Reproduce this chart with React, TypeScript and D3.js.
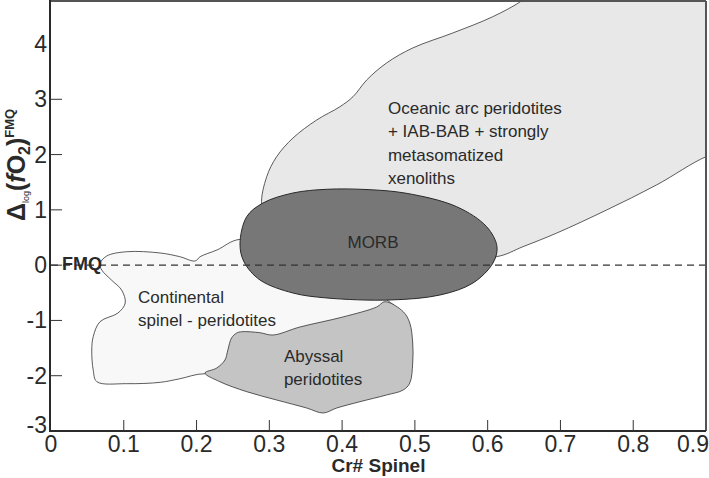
import React from "react";
import * as d3 from "d3";

type Pt = [number, number];

// axis ticks
const xTicks = [0, 0.1, 0.2, 0.3, 0.4, 0.5, 0.6, 0.7, 0.8, 0.9];
const yTicks = [-3, -2, -1, 0, 1, 2, 3, 4];
const yTickMarks = [-2, -1, 0, 1, 2, 3];

// field outlines, [Cr# spinel, dlog fO2]
const oceanicArc: Pt[] = [
  [0.2895, 1.088], [0.2964, 1.6], [0.31, 1.961], [0.3325, 2.3], [0.365, 2.625],
  [0.397, 2.866], [0.415, 3.047], [0.4338, 3.349], [0.461, 3.656], [0.497, 3.928],
  [0.552, 4.199], [0.607, 4.494], [0.6485, 4.796], [0.672, 5.07], [0.933, 5.07],
  [0.933, 2.08], [0.9, 1.961], [0.832, 1.45], [0.7635, 0.998], [0.695, 0.581],
  [0.6485, 0.334], [0.612, 0.153], [0.521, 0.183], [0.383, 0.455], [0.301, 0.726],
];

const morb: Pt[] = [
  [0.2597, 0.382], [0.2689, 0.876], [0.2913, 1.124], [0.3325, 1.305], [0.379, 1.372],
  [0.4328, 1.368], [0.4887, 1.299], [0.5574, 1.057], [0.5986, 0.695], [0.6128, 0.334],
  [0.6073, 0.039], [0.5798, -0.323], [0.5345, -0.54], [0.4658, -0.63], [0.3792, -0.594],
  [0.3325, -0.504], [0.2872, -0.269], [0.2653, 0.057],
];

const continental: Pt[] = [
  [0.0765, 0.165], [0.104, 0.243], [0.15, 0.22], [0.177, 0.153], [0.198, 0.075],
  [0.205, 0.153], [0.228, 0.274], [0.26, 0.467], [0.342, 0.183], [0.456, -0.576],
  [0.486, -0.992], [0.466, -1.806], [0.287, -2.168], [0.212, -1.964], [0.177, -2.055],
  [0.15, -2.12], [0.104, -2.144], [0.063, -2.108], [0.058, -1.897], [0.056, -1.535],
  [0.058, -1.294], [0.0673, -1.023], [0.092, -0.866], [0.102, -0.685], [0.097, -0.45],
  [0.083, -0.269], [0.0697, -0.088], [0.067, 0.021],
];

const abyssal: Pt[] = [
  [0.459, -0.661], [0.484, -0.842], [0.493, -1.047], [0.497, -1.408], [0.497, -1.77],
  [0.493, -2.132], [0.484, -2.258], [0.461, -2.349], [0.4245, -2.47], [0.3926, -2.584],
  [0.374, -2.674], [0.3513, -2.584], [0.31, -2.439], [0.269, -2.289], [0.232, -2.108],
  [0.2116, -1.951], [0.2277, -1.861], [0.239, -1.716], [0.243, -1.536], [0.248, -1.319],
  [0.255, -1.228], [0.262, -1.204], [0.287, -1.222], [0.305, -1.264], [0.342, -1.119],
  [0.401, -0.938], [0.4475, -0.757],
];

const fieldLabels: { lines: string[]; at: Pt; anchor: string }[] = [
  { lines: ["Oceanic arc peridotites", "+ IAB-BAB + strongly", "metasomatized", "xenoliths"], at: [0.463, 2.734], anchor: "start" },
  { lines: ["MORB"], at: [0.4424, 0.31], anchor: "middle" },
  { lines: ["Continental", "spinel - peridotites"], at: [0.1195, -0.685], anchor: "start" },
  { lines: ["Abyssal", "peridotites"], at: [0.32, -1.746], anchor: "start" },
];

const W = 709;
const H = 478;
const left = 51, right = 706, top = 1, bottom = 431;

export default function App() {
  const x = d3.scaleLinear().domain([0, 0.9]).range([left, right]);
  const y = d3.scaleLinear().domain([-3, 4]).range([bottom, 44]);

  const area = d3
    .line<Pt>()
    .x((d) => x(d[0]))
    .y((d) => y(d[1]))
    .curve(d3.curveCatmullRomClosed.alpha(0.5));

  const font = "'Liberation Sans', Arial, Helvetica, sans-serif";
  const ink = "#2a2a2a";

  return (
    <svg
      width={W}
      height={H}
      style={{ position: "absolute", left: 0, top: 0, background: "#fff" }}
      fontFamily={font}
    >
      <defs>
        <clipPath id="plot">
          <rect x={left} y={top} width={right - left} height={bottom - top} />
        </clipPath>
      </defs>

      <g clipPath="url(#plot)">
        <path d={area(oceanicArc) || ""} fill="#e8e8e8" stroke="#333" strokeWidth={0.8} />
        <path d={area(continental) || ""} fill="#f8f8f8" stroke="#333" strokeWidth={0.8} />
        <path d={area(abyssal) || ""} fill="#c4c4c4" stroke="#333" strokeWidth={0.8} />
        <path d={area(morb) || ""} fill="#777" stroke="#2a2a2a" strokeWidth={1} />
        <line
          x1={left}
          x2={right}
          y1={y(0)}
          y2={y(0)}
          stroke="#333"
          strokeWidth={1.3}
          strokeDasharray="7,5"
        />
      </g>

      {fieldLabels.map((l, i) => (
        <text
          key={i}
          x={x(l.at[0])}
          y={y(l.at[1])}
          textAnchor={l.anchor}
          fontSize={17}
          fill={ink}
        >
          {l.lines.map((s, j) => (
            <tspan key={j} x={x(l.at[0])} dy={j === 0 ? 0 : 23.3}>
              {s}
            </tspan>
          ))}
        </text>
      ))}

      <text x={62} y={y(0) + 5} fontSize={18} fontWeight="bold" fill={ink}>
        FMQ
      </text>

      {/* frame */}
      <line x1={left} x2={right} y1={top} y2={top} stroke="#555" strokeWidth={2} />
      <line x1={right} x2={right} y1={top} y2={bottom} stroke="#555" strokeWidth={2} />
      <line x1={left - 1} x2={left - 1} y1={0} y2={bottom + 1} stroke="#2a2a2a" strokeWidth={2} />
      <line x1={left - 1} x2={right} y1={bottom} y2={bottom} stroke="#2a2a2a" strokeWidth={2} />

      {xTicks.map((t, i) => (
        <g key={t}>
          {t > 0 && t < 0.9 && (
            <line x1={x(t)} x2={x(t)} y1={bottom} y2={bottom - 11} stroke="#333" strokeWidth={1} />
          )}
          <text
            x={i === xTicks.length - 1 ? 709 : x(t)}
            y={452}
            textAnchor={i === xTicks.length - 1 ? "end" : "middle"}
            fontSize={23}
            fill={ink}
          >
            {String(t)}
          </text>
        </g>
      ))}

      {yTickMarks.map((t) => (
        <line key={t} x1={left} x2={left + 11} y1={y(t)} y2={y(t)} stroke="#333" strokeWidth={1} />
      ))}
      {yTicks.map((t) => (
        <text
          key={t}
          x={47}
          y={y(t) + (t === -3 ? -6 : 0)}
          dy="0.35em"
          textAnchor="end"
          fontSize={23}
          fill={ink}
        >
          {t < 0 ? "-" + Math.abs(t) : String(t)}
        </text>
      ))}

      <text x={(left + right) / 2} y={472} textAnchor="middle" fontSize={19} fontWeight="bold" fill={ink}>
        Cr# Spinel
      </text>

      <text transform="translate(25,221) rotate(-90)" fontSize={25} fontWeight="bold" fill={ink}>
        <tspan>Δ</tspan>
        <tspan fontSize={9} fontWeight="normal" dy={4}>log</tspan>
        <tspan dy={-4}>(</tspan>
        <tspan fontStyle="italic">f</tspan>
        <tspan>O</tspan>
        <tspan fontSize={16} dy={5}>2</tspan>
        <tspan dy={-5}>)</tspan>
        <tspan fontSize={13} dy={-11}>FMQ</tspan>
      </text>
    </svg>
  );
}
